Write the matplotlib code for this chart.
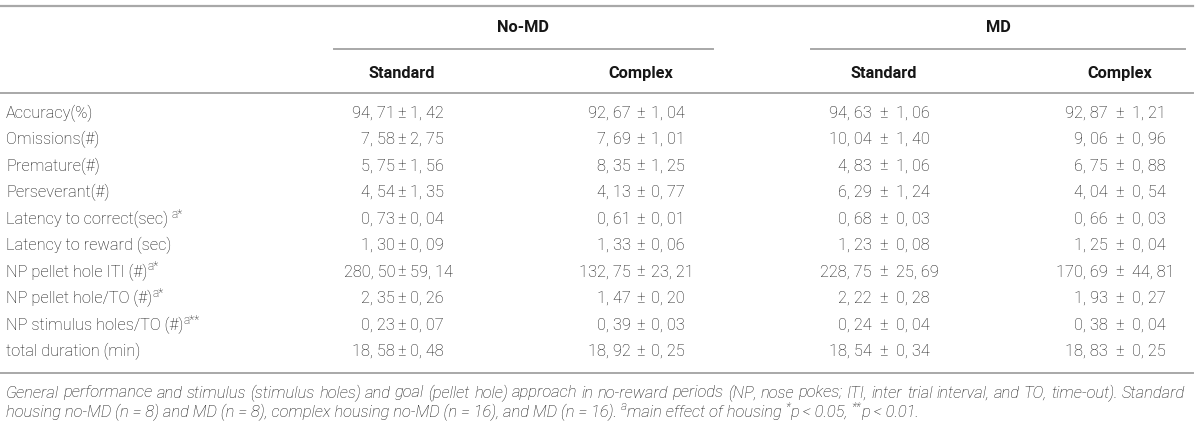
import matplotlib
matplotlib.use("Agg")
import matplotlib.pyplot as plt

# table content
groups = ["No-MD", "MD"]
housing = ["Standard", "Complex", "Standard", "Complex"]
row_labels = ["Accuracy(%)", "Omissions(#)", "Premature(#)", "Perseverant(#)",
              "Latency to correct(sec) ", "Latency to reward (sec)",
              "NP pellet hole ITI (#)", "NP pellet hole/TO (#)",
              "NP stimulus holes/TO (#)", "total duration (min)"]
row_sup = ["", "", "", "", "a*", "", "a*", "a*", "a**", ""]

nomd_std_mean = [94.71, 7.58, 5.75, 4.54, 0.73, 1.30, 280.50, 2.35, 0.23, 18.58]
nomd_std_sem = [1.42, 2.75, 1.56, 1.35, 0.04, 0.09, 59.14, 0.26, 0.07, 0.48]
nomd_cpx_mean = [92.67, 7.69, 8.35, 4.13, 0.61, 1.33, 132.75, 1.47, 0.39, 18.92]
nomd_cpx_sem = [1.04, 1.01, 1.25, 0.77, 0.01, 0.06, 23.21, 0.20, 0.03, 0.25]
md_std_mean = [94.63, 10.04, 4.83, 6.29, 0.68, 1.23, 228.75, 2.22, 0.24, 18.54]
md_std_sem = [1.06, 1.40, 1.06, 1.24, 0.03, 0.08, 25.69, 0.28, 0.04, 0.34]
md_cpx_mean = [92.87, 9.06, 6.75, 4.04, 0.66, 1.25, 170.69, 1.93, 0.38, 18.83]
md_cpx_sem = [1.21, 0.96, 0.88, 0.54, 0.03, 0.04, 44.81, 0.27, 0.04, 0.25]

caption1 = ("General performance and stimulus (stimulus holes) and goal (pellet hole) "
            "approach in no-reward periods (NP, nose pokes; ITI, inter trial interval, "
            "and TO, time-out). Standard")
caption2 = [("housing no-MD (n = 8) and MD (n = 8), complex housing no-MD (n = 16), "
             "and MD (n = 16). ", False),
            ("a", True), ("main effect of housing ", False), ("*", True),
            ("p < 0.05, ", False), ("**", True), ("p < 0.01.", False)]

FONT = "Roboto"
FS = 11.8
CAP_FS = 11.9
TXT = "#161616"
RULE = "#a8a8a8"

fig = plt.figure(figsize=(12, 4.25), dpi=100)
ax = fig.add_axes([0, 0, 1, 1])
ax.set_xlim(0, 1200)
ax.set_ylim(425, 0)
ax.axis("off")
renderer = fig.canvas.get_renderer()


def width(t):
    return t.get_window_extent(renderer=renderer).width


def run_text(x, y, pieces, style="normal", fs=FS):
    # pieces: (text, superscript?)
    for s, sup in pieces:
        if sup:
            t = ax.text(x, y - 5, s, fontsize=fs * 0.72, family=FONT, style=style,
                        weight="light", color=TXT, va="center", ha="left")
        else:
            t = ax.text(x, y, s, fontsize=fs, family=FONT, style=style,
                        weight="light", color=TXT, va="center", ha="left")
        x += width(t)
    return x


# rules
ax.plot([0, 1193], [5.7, 5.7], color=RULE, lw=1.6)
ax.plot([0, 1193], [93, 93], color=RULE, lw=1.4)
ax.plot([0, 1193], [373, 373], color=RULE, lw=1.4)
group_spans = [(334, 713), (811, 1185)]
for g, (a, b) in zip(groups, group_spans):
    ax.plot([a, b], [49, 49], color=RULE, lw=1.4)
    ax.text((a + b) / 2, 27, g, fontsize=FS, family=FONT, weight="bold",
            color=TXT, ha="center", va="center")

col_x = [402, 641, 884, 1120]
for h, cx in zip(housing, col_x):
    ax.text(cx, 73, h, fontsize=FS, family=FONT, weight="bold",
            color=TXT, ha="center", va="center")

row_y = [113 + 26.5 * i for i in range(len(row_labels))]
for lab, sup, y in zip(row_labels, row_sup, row_y):
    pieces = [(lab, False)]
    if sup:
        pieces.append((sup, True))
    run_text(6, y, pieces)

columns = [(nomd_std_mean, nomd_std_sem), (nomd_cpx_mean, nomd_cpx_sem),
           (md_std_mean, md_std_sem), (md_cpx_mean, md_cpx_sem)]
gaps = [(7, 8), (10, 10), (12, 12), (12, 12)]


def fmt(v):
    return f"{v:.2f}".replace(".", ", ")


for (means, sems), cx, (gl, gr) in zip(columns, col_x, gaps):
    for m, s, y in zip(means, sems, row_y):
        ax.text(cx - gl, y, fmt(m), fontsize=FS, family=FONT, weight="light",
                color=TXT, ha="right", va="center")
        ax.text(cx, y, "\u00b1", fontsize=FS, family=FONT, weight="light",
                color=TXT, ha="center", va="center")
        ax.text(cx + gr, y, fmt(s), fontsize=FS, family=FONT, weight="light",
                color=TXT, ha="left", va="center")

# caption line 1, justified between 6 and 1185
words = caption1.split(" ")
wt = [ax.text(0, 393, w, fontsize=CAP_FS, family=FONT, style="italic",
              weight="light", color=TXT, ha="left", va="center") for w in words]
ws = [width(t) for t in wt]
gap = (1185 - 6 - sum(ws)) / (len(words) - 1)
x = 6
for t, w in zip(wt, ws):
    t.set_x(x)
    x += w + gap

run_text(6, 412, caption2, style="italic", fs=CAP_FS)

fig.savefig("out.png", dpi=100)
